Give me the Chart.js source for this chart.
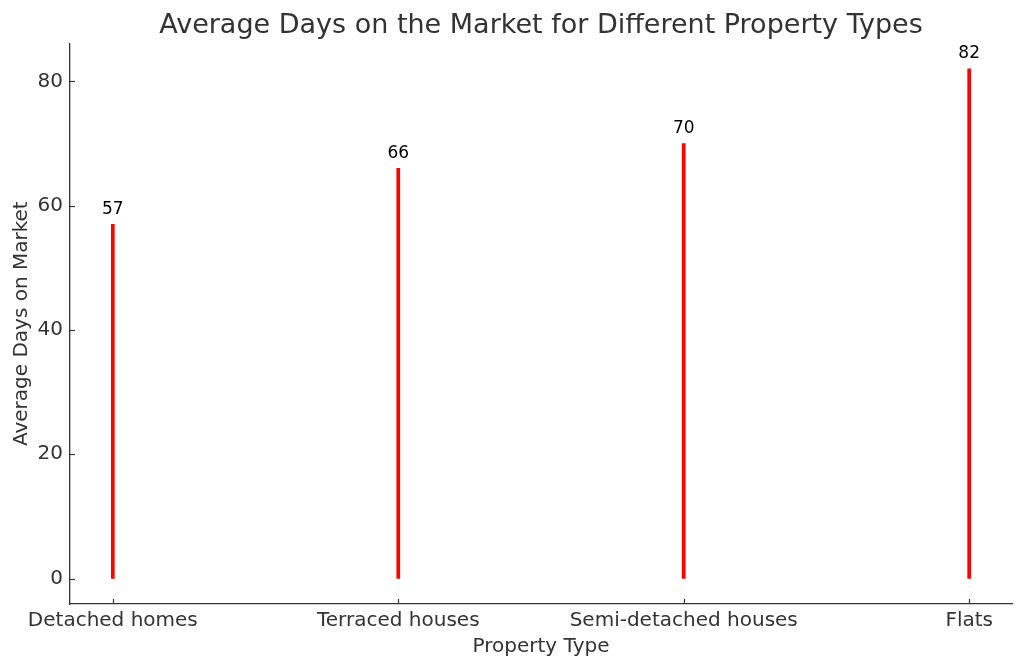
<!DOCTYPE html>
<html>
<head>
<meta charset="utf-8">
<script src="https://cdn.jsdelivr.net/npm/chart.js@4.4.1/dist/chart.umd.min.js"></script>
<style>
  html, body { margin: 0; padding: 0; background: #fff; }
  #wrap { width: 1024px; height: 669px; }
</style>
</head>
<body>
<div id="wrap"><canvas id="c" width="1024" height="669"></canvas></div>
<script>
const categories = ["Detached homes", "Terraced houses", "Semi-detached houses", "Flats"];
const avgDays = [57, 66, 70, 82];
const yTickValues = [0, 20, 40, 60, 80];

const FONT = "'DejaVu Sans', sans-serif";
const TXT = "#333333";

const points = categories.map((c, i) => ({ x: i, y: avgDays[i] }));

const innerTicks = {
  id: 'innerTicks',
  afterDraw(chart) {
    const ctx = chart.ctx;
    const xs = chart.scales.x, ys = chart.scales.y;
    const area = chart.chartArea;
    ctx.save();
    ctx.strokeStyle = TXT;
    ctx.lineWidth = 1.2;
    ys.ticks.forEach(t => {
      const p = Math.round(ys.getPixelForValue(t.value)) + 0.5;
      ctx.beginPath(); ctx.moveTo(area.left, p); ctx.lineTo(area.left + 5, p); ctx.stroke();
    });
    xs.ticks.forEach(t => {
      const p = Math.round(xs.getPixelForValue(t.value)) + 0.5;
      ctx.beginPath(); ctx.moveTo(p, area.bottom); ctx.lineTo(p, area.bottom - 5); ctx.stroke();
    });
    ctx.restore();
  }
};

const valueLabels = {
  id: 'valueLabels',
  afterDatasetsDraw(chart) {
    const ctx = chart.ctx;
    const meta = chart.getDatasetMeta(0);
    ctx.save();
    ctx.fillStyle = '#000';
    ctx.font = "17px " + FONT;
    ctx.textAlign = 'center';
    ctx.textBaseline = 'middle';
    meta.data.forEach((el, i) => {
      ctx.fillText(String(avgDays[i]), el.x, el.y - 15);
    });
    ctx.restore();
  }
};

new Chart(document.getElementById('c'), {
  type: 'bar',
  data: {
    datasets: [{
      data: points,
      backgroundColor: '#ff0000',
      borderWidth: 0,
      barThickness: 3
    }]
  },
  options: {
    responsive: false,
    animation: false,
    devicePixelRatio: 1,
    layout: { padding: { left: 0, right: 12, top: 0, bottom: 0 } },
    plugins: {
      legend: { display: false },
      tooltip: { enabled: false },
      title: {
        display: true,
        fullSize: false,
        text: 'Average Days on the Market for Different Property Types',
        color: TXT,
        font: { family: FONT, size: 27, weight: 'normal' },
        padding: { top: 10, bottom: 1 }
      }
    },
    scales: {
      x: {
        type: 'linear',
        min: -0.15,
        max: 3.15,
        offset: false,
        grid: { display: false, offset: false, drawTicks: false },
        border: { display: true, color: TXT, width: 1.3 },
        afterBuildTicks(scale) { scale.ticks = categories.map((c, i) => ({ value: i })); },
        afterFit(scale) { scale.height = 65; },
        ticks: {
          color: TXT,
          font: { family: FONT, size: 20 },
          padding: 5,
          maxRotation: 0,
          autoSkip: false,
          callback: (v) => categories[v]
        },
        title: {
          display: true,
          text: 'Property Type',
          color: TXT,
          font: { family: FONT, size: 20 },
          padding: { top: 0, bottom: 10 }
        }
      },
      y: {
        type: 'linear',
        min: -4.1,
        max: 86.1,
        grid: { display: false, drawTicks: false },
        border: { display: true, color: TXT, width: 1.3 },
        afterBuildTicks(scale) { scale.ticks = yTickValues.map(v => ({ value: v })); },
        afterFit(scale) { scale.width = 70; },
        ticks: {
          color: TXT,
          font: { family: FONT, size: 20 },
          padding: 7
        },
        title: {
          display: true,
          text: 'Average Days on Market',
          color: TXT,
          font: { family: FONT, size: 20 },
          padding: { top: 10, bottom: 0 }
        }
      }
    }
  },
  plugins: [innerTicks, valueLabels]
});
</script>
</body>
</html>
